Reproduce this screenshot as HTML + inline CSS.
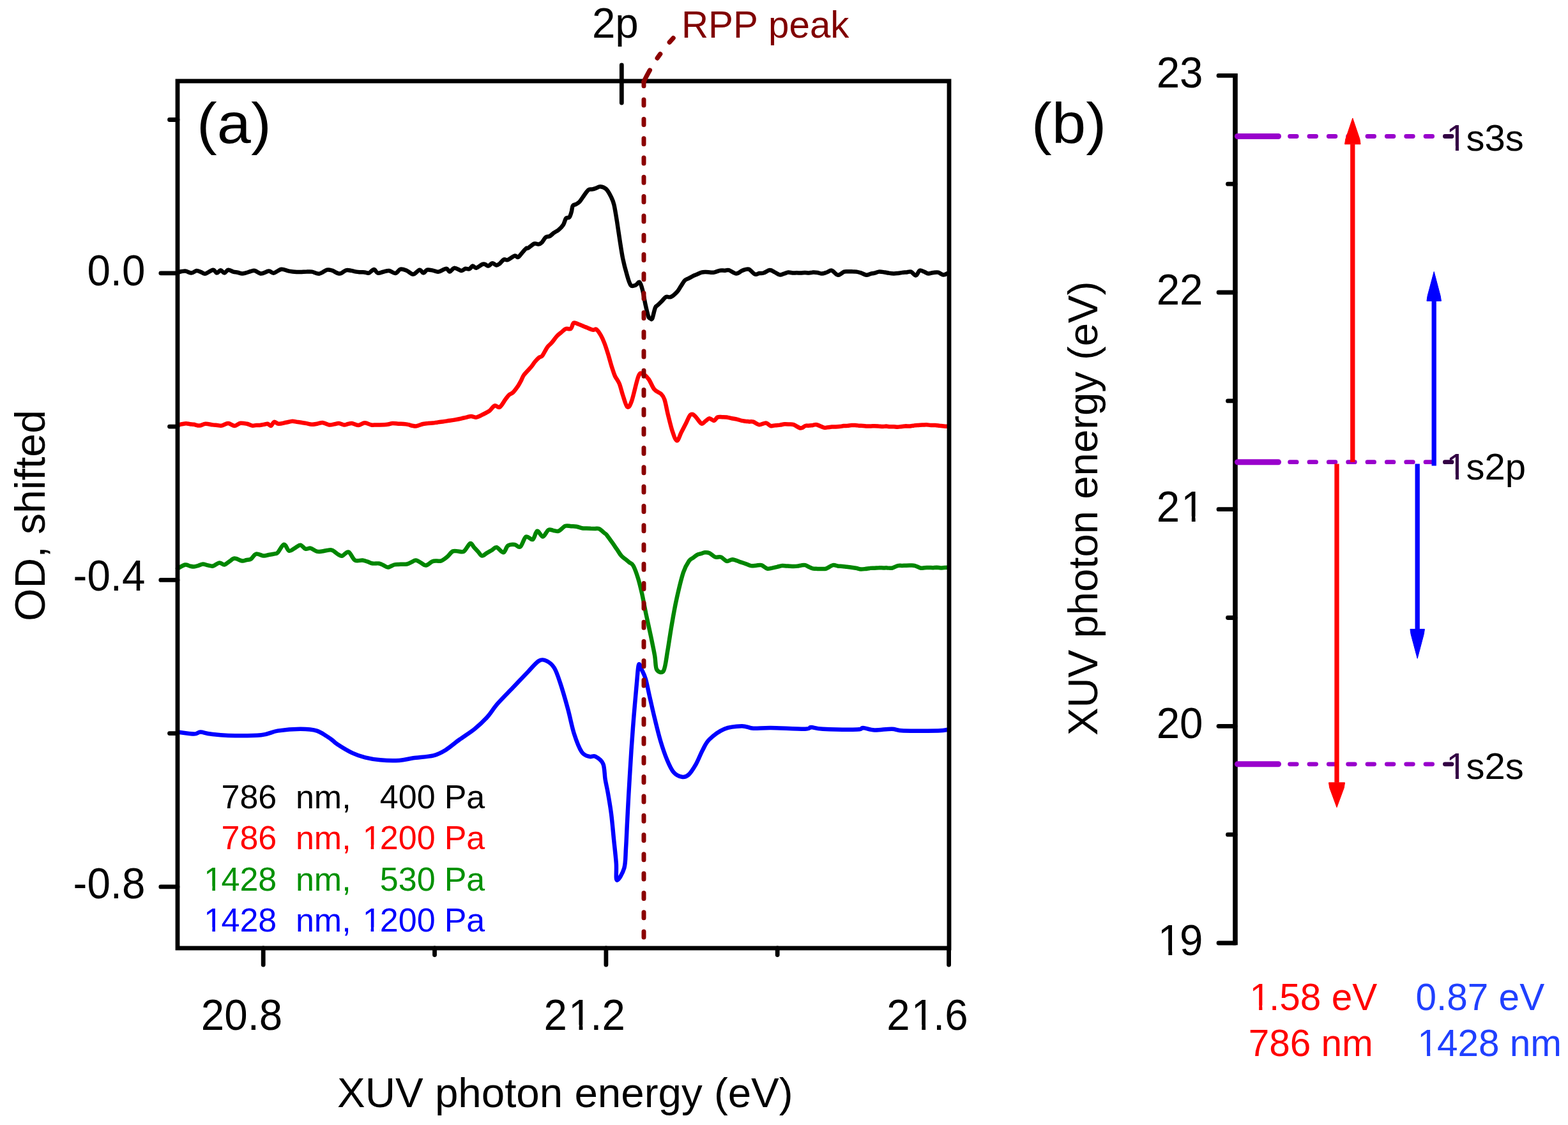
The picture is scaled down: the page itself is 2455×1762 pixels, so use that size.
<!DOCTYPE html>
<html><head><meta charset="utf-8"><title>XUV spectra</title>
<style>html,body{margin:0;padding:0;background:#fff;} svg{display:block;} text{font-kerning:none;}</style>
</head><body>
<svg width="2455" height="1762" viewBox="0 0 2455 1762" font-family='"Liberation Sans", Arial, sans-serif'>
<rect width="2455" height="1762" fill="#fff"/>
<path d="M278.0,426.6 C280.0,426.3 286.2,424.4 289.8,424.6 C293.4,424.8 296.8,427.7 299.8,427.6 C302.8,427.5 305.2,424.3 307.7,424.0 C310.2,423.7 312.3,425.3 314.6,426.1 C317.0,426.9 318.5,429.2 321.6,428.6 C324.7,428.0 330.5,422.9 333.5,422.7 C336.5,422.5 337.4,427.5 339.4,427.6 C341.4,427.7 343.4,423.3 345.4,423.3 C347.4,423.3 349.3,427.7 351.3,427.6 C353.3,427.5 355.0,423.0 357.3,422.7 C359.6,422.4 362.7,424.9 365.2,425.6 C367.7,426.3 369.8,426.2 372.1,426.7 C374.5,427.2 376.8,428.5 379.1,428.6 C381.4,428.7 383.5,427.8 385.7,427.2 C387.9,426.7 390.2,425.6 392.4,425.0 C394.6,424.5 396.2,423.4 399.0,424.0 C401.8,424.6 405.3,428.5 408.9,428.6 C412.5,428.7 417.5,424.8 420.8,424.6 C424.1,424.4 425.4,428.1 428.7,427.6 C432.0,427.1 436.6,422.2 440.6,421.7 C444.6,421.2 448.5,423.9 452.5,424.6 C456.5,425.3 461.1,425.8 464.4,426.0 C467.7,426.2 469.7,426.0 472.4,425.9 C475.0,425.8 477.7,425.6 480.3,425.6 C483.0,425.5 485.0,425.1 488.3,425.6 C491.6,426.1 496.2,429.1 500.2,428.6 C504.1,428.1 508.7,423.5 512.0,422.7 C515.3,421.9 516.7,422.7 520.0,423.7 C523.3,424.7 528.3,428.7 531.9,428.6 C535.5,428.5 538.8,424.1 541.8,423.3 C544.8,422.5 547.1,423.5 549.8,423.9 C552.4,424.3 555.3,425.2 557.7,425.6 C560.1,426.0 562.1,426.1 564.3,426.3 C566.5,426.4 568.7,426.2 570.9,426.4 C573.1,426.6 575.1,428.3 577.5,427.6 C579.9,426.9 583.2,422.1 585.5,422.1 C587.8,422.1 588.9,427.0 591.4,427.6 C593.9,428.2 597.4,426.3 600.3,425.7 C603.3,425.1 606.2,423.6 609.3,424.0 C612.4,424.4 616.2,428.4 619.2,428.0 C622.2,427.6 624.1,422.4 627.1,421.7 C630.1,421.0 633.8,422.7 637.1,424.0 C640.4,425.3 643.7,429.8 647.0,429.6 C650.3,429.4 654.2,423.0 656.9,422.7 C659.5,422.4 660.9,427.6 662.9,427.6 C664.9,427.6 666.3,423.4 668.8,422.7 C671.3,422.0 674.8,423.2 677.8,423.6 C680.7,424.1 683.2,426.1 686.7,425.6 C690.2,425.1 695.7,420.7 698.6,420.7 C701.5,420.7 702.0,425.7 704.2,425.5 C706.4,425.3 708.6,420.0 711.6,419.7 C714.6,419.4 719.4,423.7 722.2,423.9 C725.0,424.1 726.5,421.1 728.6,420.7 C730.7,420.3 733.0,422.0 734.9,421.3 C736.8,420.6 738.4,416.8 740.2,416.5 C742.0,416.2 743.0,420.1 745.5,419.7 C748.0,419.3 752.7,414.9 755.0,413.9 C757.3,412.9 757.7,413.5 759.3,413.9 C760.9,414.3 762.7,416.8 764.6,416.5 C766.5,416.2 768.8,412.5 770.9,412.3 C773.0,412.1 775.3,415.3 777.2,415.4 C779.1,415.5 780.5,414.3 782.5,412.8 C784.5,411.3 786.8,407.5 788.9,406.5 C791.0,405.5 792.4,408.0 795.2,407.0 C798.0,406.0 803.1,401.3 805.8,400.6 C808.4,399.9 809.2,403.6 811.1,402.8 C813.0,402.0 815.3,398.2 817.5,395.9 C819.6,393.6 822.2,390.2 823.8,389.0 C825.4,387.8 824.9,389.7 827.0,388.5 C829.1,387.3 833.9,382.6 836.5,381.6 C839.1,380.6 841.0,382.9 842.9,382.6 C844.8,382.3 846.2,381.9 848.1,380.0 C850.0,378.1 852.4,373.2 854.5,371.5 C856.6,369.8 858.7,371.0 860.8,369.9 C862.9,368.8 864.9,366.4 867.2,364.7 C869.5,363.0 872.1,362.0 874.6,359.9 C877.1,357.8 880.1,355.0 882.0,352.0 C883.9,349.0 884.6,343.8 886.2,341.9 C887.8,339.9 890.1,342.0 891.5,340.3 C892.9,338.6 893.8,334.9 894.7,331.9 C895.6,328.9 895.6,324.3 896.8,322.3 C898.0,320.3 900.3,320.8 902.1,319.7 C903.9,318.6 905.6,317.9 907.4,316.0 C909.2,314.1 910.9,311.1 912.7,308.6 C914.5,306.1 916.4,303.1 918.0,301.2 C919.6,299.2 920.6,297.7 922.2,296.9 C923.8,296.1 925.7,296.8 927.5,296.4 C929.3,296.0 930.7,295.5 932.8,294.8 C934.9,294.1 937.3,292.0 940.0,292.2 C942.7,292.4 946.3,293.4 949.1,296.1 C951.9,298.8 954.8,304.3 956.8,308.4 C958.8,312.5 959.9,314.3 961.4,320.7 C962.9,327.1 964.5,337.3 966.0,346.8 C967.5,356.3 969.1,367.8 970.6,377.5 C972.1,387.2 973.4,396.4 975.2,405.1 C977.0,413.8 979.4,422.8 981.4,429.7 C983.4,436.6 985.2,443.8 987.5,446.6 C989.8,449.4 992.9,447.4 995.2,446.6 C997.5,445.8 999.5,440.7 1001.3,442.0 C1003.1,443.3 1004.5,448.4 1006.0,454.3 C1007.5,460.2 1009.1,470.4 1010.6,477.3 C1012.1,484.2 1013.9,492.1 1015.2,495.7 C1016.5,499.3 1017.5,498.5 1018.5,499.0 C1019.5,499.5 1020.1,501.7 1021.3,498.8 C1022.5,495.9 1024.4,485.5 1025.9,481.9 C1027.4,478.3 1028.7,479.1 1030.5,477.3 C1032.3,475.5 1034.6,473.2 1036.7,471.1 C1038.7,469.1 1040.5,466.0 1042.8,465.0 C1045.1,464.0 1047.6,466.3 1050.5,465.0 C1053.4,463.7 1057.4,460.1 1060.0,457.3 C1062.6,454.5 1064.0,451.3 1066.0,448.3 C1068.1,445.3 1070.0,441.4 1072.1,439.3 C1074.2,437.2 1076.4,437.0 1078.5,435.9 C1080.6,434.7 1082.7,433.5 1084.9,432.4 C1087.1,431.3 1089.4,430.5 1091.7,429.5 C1094.0,428.5 1096.3,427.2 1098.5,426.6 C1100.7,426.0 1102.8,426.1 1105.0,426.1 C1107.1,426.1 1109.3,426.4 1111.4,426.5 C1113.6,426.6 1115.2,427.1 1117.9,426.6 C1120.6,426.1 1124.8,424.1 1127.6,423.6 C1130.3,423.1 1132.1,423.8 1134.4,423.7 C1136.7,423.7 1138.1,422.3 1141.2,423.1 C1144.3,423.9 1149.2,428.4 1152.8,428.5 C1156.3,428.6 1159.3,424.7 1162.5,423.6 C1165.7,422.5 1169.0,420.7 1172.2,421.7 C1175.4,422.7 1179.2,428.4 1181.9,429.5 C1184.7,430.6 1186.4,428.4 1188.7,428.0 C1191.0,427.7 1192.8,428.3 1195.5,427.5 C1198.2,426.7 1202.3,423.3 1205.2,423.1 C1208.1,422.9 1210.4,425.2 1213.0,426.4 C1215.5,427.6 1218.3,430.0 1220.7,430.4 C1223.1,430.8 1225.2,429.3 1227.5,428.7 C1229.8,428.0 1232.1,426.8 1234.3,426.6 C1236.5,426.4 1238.6,427.3 1240.8,427.4 C1242.9,427.6 1245.1,427.3 1247.2,427.3 C1249.4,427.3 1251.5,427.5 1253.7,427.5 C1255.9,427.5 1258.0,427.1 1260.2,427.1 C1262.3,427.1 1264.5,427.6 1266.6,427.5 C1268.8,427.4 1270.9,426.7 1273.1,426.6 C1275.3,426.5 1277.6,426.7 1279.9,427.0 C1282.2,427.3 1284.3,428.6 1286.7,428.5 C1289.1,428.4 1291.9,427.3 1294.5,426.5 C1297.0,425.7 1299.3,422.9 1302.2,423.6 C1305.1,424.3 1308.7,430.5 1311.9,430.8 C1315.1,431.1 1318.9,426.5 1321.6,425.6 C1324.3,424.7 1325.9,425.4 1328.1,425.3 C1330.2,425.3 1332.4,425.1 1334.5,425.2 C1336.7,425.2 1338.6,425.2 1341.0,425.6 C1343.4,426.0 1346.2,426.9 1348.8,427.7 C1351.3,428.6 1354.1,430.6 1356.5,430.8 C1358.9,431.0 1360.8,429.4 1363.0,428.8 C1365.1,428.3 1367.3,428.3 1369.4,427.7 C1371.6,427.2 1373.5,425.9 1375.9,425.6 C1378.3,425.3 1381.1,425.8 1383.7,426.2 C1386.3,426.5 1388.8,427.2 1391.4,427.6 C1394.0,428.0 1396.8,428.4 1399.2,428.5 C1401.6,428.6 1403.7,428.2 1406.0,427.9 C1408.2,427.7 1410.5,427.2 1412.8,426.9 C1415.0,426.6 1417.3,426.6 1419.5,426.4 C1421.8,426.2 1423.9,424.8 1426.3,425.6 C1428.7,426.4 1431.8,431.7 1434.1,431.4 C1436.4,431.1 1437.8,424.6 1439.9,423.6 C1442.0,422.6 1444.4,424.7 1446.7,425.5 C1449.0,426.3 1451.1,428.3 1453.5,428.5 C1455.9,428.7 1458.7,427.3 1461.2,427.0 C1463.8,426.7 1466.4,426.0 1469.0,426.6 C1471.6,427.2 1474.1,430.2 1476.8,430.4 C1479.5,430.5 1483.6,428.0 1485.0,427.5" fill="none" stroke="#000" stroke-width="6.5" stroke-linejoin="round" stroke-linecap="round"/>
<path d="M278.1,665.9 C279.2,665.6 282.5,664.7 284.7,664.3 C286.9,663.9 289.2,663.3 291.3,663.3 C293.4,663.3 295.4,664.0 297.4,664.2 C299.4,664.5 301.0,664.4 303.5,664.8 C306.0,665.2 309.6,666.8 312.6,666.6 C315.6,666.4 318.3,664.0 321.7,663.8 C325.1,663.6 329.8,665.0 332.9,665.4 C335.9,665.8 337.6,665.7 340.0,665.9 C342.4,666.1 344.2,667.1 347.1,666.6 C350.0,666.1 353.8,663.1 357.2,663.1 C360.6,663.1 364.2,667.0 367.4,666.9 C370.6,666.8 373.3,663.3 376.5,662.8 C379.7,662.3 383.6,663.2 386.6,663.8 C389.6,664.4 392.3,666.2 394.7,666.6 C397.1,667.0 398.8,666.2 400.8,666.1 C402.8,665.9 404.9,666.1 406.9,665.9 C408.9,665.7 411.0,665.3 413.0,664.9 C415.0,664.6 417.2,663.5 419.1,663.8 C421.0,664.1 422.5,667.4 424.2,666.9 C425.9,666.4 427.2,661.3 429.2,660.8 C431.2,660.3 433.2,663.6 436.3,663.8 C439.4,664.0 443.9,662.5 447.5,661.8 C451.1,661.1 454.7,660.0 457.6,659.8 C460.5,659.6 462.3,660.4 464.7,660.8 C467.1,661.1 469.3,661.4 471.8,661.8 C474.3,662.2 477.2,662.6 480.0,663.1 C482.7,663.6 485.3,664.7 488.1,664.8 C490.9,664.9 493.8,664.2 496.6,663.7 C499.5,663.2 502.1,661.7 505.2,662.0 C508.3,662.3 512.4,665.1 515.4,665.5 C518.4,665.9 520.5,664.9 523.0,664.4 C525.5,664.0 528.0,662.8 530.6,663.0 C533.2,663.2 536.3,665.3 538.7,665.5 C541.1,665.7 542.8,664.4 544.8,664.0 C546.8,663.6 548.2,662.7 550.9,663.0 C553.6,663.3 557.6,666.1 561.0,666.0 C564.4,665.9 567.7,662.4 571.1,662.3 C574.5,662.2 578.5,665.0 581.3,665.5 C584.1,666.0 585.8,665.5 588.1,665.5 C590.3,665.5 592.6,665.4 594.8,665.4 C597.1,665.4 599.4,665.4 601.6,665.3 C603.8,665.2 606.0,664.9 608.2,664.5 C610.3,664.1 612.2,663.1 614.7,663.0 C617.2,662.9 620.5,663.6 623.4,663.7 C626.2,663.9 629.4,663.8 632.0,664.0 C634.6,664.2 636.5,664.4 638.8,664.9 C641.0,665.3 643.3,666.3 645.5,666.7 C647.8,667.1 649.5,667.7 652.3,667.3 C655.1,666.9 659.4,664.7 662.4,664.0 C665.4,663.3 667.5,663.1 670.0,662.9 C672.5,662.6 675.1,662.7 677.6,662.5 C680.1,662.3 682.7,661.7 685.2,661.4 C687.7,661.0 690.3,660.7 692.8,660.4 C695.3,660.1 696.9,659.9 700.0,659.4 C703.1,658.9 707.7,658.3 711.5,657.6 C715.3,656.9 719.8,656.0 722.9,655.3 C726.0,654.6 727.9,654.2 730.3,653.6 C732.8,653.0 735.2,651.9 737.8,651.9 C740.4,651.9 742.6,654.2 745.9,653.6 C749.1,653.0 753.9,650.2 757.3,648.5 C760.7,646.8 763.6,645.5 766.5,643.3 C769.4,641.1 771.8,636.2 774.5,635.3 C777.2,634.3 779.6,639.3 782.5,637.6 C785.4,635.9 789.2,628.2 791.7,625.0 C794.2,621.8 795.5,619.8 797.4,618.1 C799.3,616.4 800.9,616.9 803.2,614.6 C805.5,612.3 809.1,607.3 811.2,604.3 C813.3,601.2 814.3,599.2 815.8,596.3 C817.3,593.4 817.7,590.7 820.4,587.1 C823.1,583.5 828.9,577.9 831.8,574.5 C834.7,571.1 835.5,569.0 837.6,566.5 C839.7,564.0 842.5,561.1 844.4,559.6 C846.3,558.1 846.9,560.0 849.0,557.3 C851.1,554.6 854.6,547.0 857.1,543.6 C859.6,540.2 861.4,539.6 863.9,536.7 C866.4,533.8 869.5,529.1 872.0,526.4 C874.5,523.7 876.5,522.5 878.8,520.6 C881.1,518.7 883.2,515.9 885.7,514.9 C888.2,513.9 891.6,516.4 893.7,514.9 C895.8,513.4 896.2,506.8 898.3,505.7 C900.4,504.6 903.1,506.9 906.4,508.0 C909.6,509.1 914.2,511.2 917.8,512.6 C921.4,514.0 925.4,516.0 928.1,516.6 C930.8,517.2 931.8,514.6 933.9,516.0 C936.0,517.4 938.6,521.6 940.7,525.2 C942.8,528.8 944.6,532.8 946.5,537.8 C948.4,542.8 950.3,548.8 952.2,555.0 C954.1,561.2 956.2,569.4 958.0,575.0 C959.8,580.6 960.8,584.4 962.8,588.8 C964.8,593.1 967.8,596.1 969.8,601.1 C971.8,606.1 973.0,612.7 975.1,618.7 C977.2,624.7 979.9,635.8 982.2,637.3 C984.6,638.8 986.3,635.7 989.2,627.6 C992.1,619.5 996.8,595.7 999.8,588.8 C1002.8,581.9 1004.2,585.2 1006.9,586.1 C1009.5,587.0 1012.8,590.0 1015.7,594.0 C1018.6,598.0 1021.3,606.1 1024.5,609.9 C1027.7,613.7 1032.4,614.4 1035.1,617.0 C1037.8,619.6 1038.6,620.5 1040.4,625.8 C1042.2,631.1 1043.7,640.5 1045.7,648.7 C1047.8,656.9 1050.4,668.3 1052.7,675.2 C1055.0,682.1 1057.5,689.9 1059.8,690.2 C1062.1,690.5 1064.4,681.5 1066.8,677.0 C1069.2,672.5 1071.5,667.9 1073.9,663.3 C1076.3,658.7 1078.7,651.6 1081.0,649.6 C1083.3,647.6 1085.2,649.1 1088.0,651.4 C1090.8,653.7 1095.4,662.0 1098.1,663.4 C1100.8,664.8 1102.3,661.0 1104.4,659.6 C1106.5,658.3 1108.4,655.4 1110.7,655.3 C1113.0,655.2 1115.9,659.2 1118.0,658.9 C1120.1,658.6 1121.3,654.5 1123.4,653.5 C1125.5,652.5 1128.2,653.2 1130.7,653.2 C1133.1,653.2 1135.4,653.1 1137.9,653.5 C1140.4,653.9 1143.1,654.8 1145.7,655.3 C1148.3,655.8 1151.0,656.0 1153.6,656.6 C1156.2,657.2 1159.1,658.4 1161.4,658.9 C1163.7,659.4 1165.4,659.4 1167.4,659.7 C1169.4,659.9 1171.5,660.2 1173.5,660.4 C1175.5,660.5 1177.0,659.9 1179.5,660.7 C1182.0,661.5 1185.2,664.9 1188.5,665.2 C1191.8,665.5 1196.3,662.2 1199.3,662.5 C1202.3,662.8 1204.2,666.4 1206.6,667.0 C1209.0,667.6 1211.4,666.4 1213.8,666.2 C1216.2,665.9 1218.7,665.9 1221.1,665.6 C1223.5,665.3 1225.9,664.5 1228.3,664.3 C1230.7,664.1 1233.1,664.4 1235.5,664.6 C1237.9,664.7 1239.7,664.2 1242.7,665.2 C1245.7,666.2 1250.6,670.3 1253.6,670.6 C1256.6,670.9 1258.6,667.7 1260.8,667.0 C1263.0,666.3 1264.8,666.8 1266.8,666.6 C1268.8,666.4 1270.9,666.1 1272.9,665.9 C1274.9,665.7 1276.1,664.6 1278.9,665.2 C1281.7,665.8 1287.0,669.0 1289.8,669.7 C1292.6,670.4 1293.9,669.4 1296.0,669.3 C1298.1,669.1 1300.1,668.8 1302.2,668.6 C1304.3,668.5 1306.3,668.6 1308.4,668.5 C1310.5,668.4 1312.5,668.3 1314.6,668.1 C1316.7,667.9 1318.7,667.3 1320.8,667.1 C1322.9,666.9 1324.9,666.9 1327.0,666.8 C1329.1,666.6 1331.2,666.2 1333.2,666.1 C1335.2,666.0 1337.2,665.8 1339.2,665.9 C1341.2,666.0 1343.2,666.6 1345.2,666.8 C1347.3,666.9 1349.3,666.8 1351.3,666.9 C1353.3,667.0 1355.3,667.4 1357.3,667.5 C1359.3,667.6 1361.3,667.6 1363.3,667.5 C1365.3,667.5 1367.3,667.2 1369.3,667.2 C1371.4,667.2 1373.4,667.4 1375.4,667.6 C1377.4,667.7 1379.4,668.1 1381.4,668.1 C1383.4,668.1 1385.4,667.6 1387.4,667.6 C1389.4,667.7 1391.4,668.2 1393.5,668.3 C1395.5,668.4 1397.5,668.2 1399.5,668.2 C1401.5,668.3 1403.4,668.9 1405.5,668.8 C1407.6,668.7 1409.8,668.1 1412.0,667.9 C1414.1,667.7 1416.3,667.4 1418.4,667.3 C1420.6,667.3 1422.7,667.7 1424.9,667.5 C1427.0,667.4 1429.2,666.6 1431.3,666.4 C1433.5,666.1 1435.6,666.1 1437.8,666.0 C1439.9,665.8 1442.1,665.7 1444.2,665.6 C1446.4,665.5 1448.5,665.1 1450.7,665.2 C1452.9,665.3 1455.3,666.0 1457.6,666.1 C1459.8,666.2 1462.1,665.8 1464.4,665.9 C1466.7,666.0 1469.0,666.5 1471.3,666.8 C1473.6,667.0 1475.9,667.2 1478.1,667.4 C1480.4,667.6 1483.9,667.8 1485.0,667.9" fill="none" stroke="#f00" stroke-width="6.5" stroke-linejoin="round" stroke-linecap="round"/>
<path d="M278.0,890.4 C280.0,889.4 286.7,885.2 289.8,884.5 C292.9,883.8 294.4,885.9 296.8,886.4 C299.1,886.9 301.4,887.6 303.7,887.5 C306.0,887.4 308.3,886.5 310.6,885.8 C313.0,885.2 315.1,883.6 317.6,883.5 C320.1,883.4 322.9,884.9 325.6,885.4 C328.2,885.9 330.5,887.1 333.5,886.5 C336.5,885.9 340.4,881.8 343.4,881.5 C346.4,881.2 348.7,884.9 351.3,884.5 C353.9,884.1 356.6,881.0 359.2,879.3 C361.9,877.7 363.9,874.7 367.2,874.6 C370.5,874.5 376.0,878.1 379.1,878.5 C382.2,878.9 383.7,877.4 386.1,877.0 C388.4,876.5 390.5,877.2 393.0,875.6 C395.5,874.0 397.7,868.4 401.0,867.6 C404.3,866.8 409.6,870.4 412.9,870.6 C416.2,870.8 418.2,869.5 420.8,869.0 C423.4,868.5 426.4,868.2 428.7,867.6 C431.0,867.0 432.0,868.1 434.7,865.6 C437.4,863.1 441.6,853.2 444.6,852.7 C447.6,852.2 449.7,861.7 452.5,862.7 C455.3,863.7 458.5,860.1 461.4,858.6 C464.4,857.1 467.6,853.5 470.4,853.7 C473.2,853.9 475.6,858.9 478.3,859.7 C481.0,860.5 483.3,858.0 486.3,858.7 C489.3,859.4 493.2,862.9 496.2,863.7 C499.2,864.5 501.5,863.8 504.1,863.5 C506.8,863.2 509.4,862.3 512.1,862.0 C514.7,861.7 517.0,860.6 520.0,861.7 C523.0,862.8 527.2,867.1 529.9,868.6 C532.5,870.1 533.2,871.3 535.9,870.6 C538.5,869.9 542.5,863.5 545.8,864.6 C549.1,865.8 552.1,875.4 555.7,877.5 C559.3,879.6 564.3,877.1 567.6,877.5 C570.9,877.9 572.9,878.8 575.5,879.7 C578.2,880.5 580.5,882.0 583.5,882.5 C586.5,883.0 590.6,882.0 593.4,882.5 C596.2,883.0 598.0,884.2 600.3,885.2 C602.7,886.2 604.5,888.6 607.3,888.5 C610.1,888.4 614.4,885.3 617.2,884.5 C620.0,883.7 621.6,884.0 623.8,883.9 C626.0,883.8 628.3,883.9 630.5,883.8 C632.7,883.8 634.8,884.0 637.1,883.5 C639.4,883.0 641.7,881.6 644.0,880.6 C646.4,879.6 648.5,877.4 651.0,877.5 C653.5,877.6 656.3,879.9 658.9,881.3 C661.5,882.6 663.8,885.8 666.8,885.5 C669.8,885.2 673.9,880.7 676.7,879.5 C679.5,878.3 681.3,878.7 683.7,878.5 C686.0,878.3 687.9,879.5 690.6,878.5 C693.3,877.5 697.0,874.8 700.0,872.3 C703.0,869.8 705.9,865.0 708.8,863.5 C711.7,862.0 714.7,863.5 717.6,863.5 C720.6,863.5 723.4,865.6 726.5,863.5 C729.6,861.4 733.6,852.1 736.2,851.1 C738.8,850.1 740.3,855.4 742.4,857.6 C744.4,859.7 746.5,861.9 748.5,864.0 C750.6,866.2 752.4,870.2 754.7,870.5 C757.0,870.8 759.8,867.6 762.3,866.1 C764.9,864.6 767.4,863.2 770.0,861.7 C772.5,860.2 774.6,856.7 777.6,857.3 C780.6,857.9 785.3,865.7 788.2,865.3 C791.1,864.9 792.3,856.8 795.2,854.7 C798.1,852.6 802.6,852.6 805.8,852.9 C809.0,853.2 811.6,858.4 814.6,856.4 C817.6,854.4 820.3,842.5 823.5,840.6 C826.7,838.7 831.1,846.5 834.0,845.0 C836.9,843.5 838.5,832.4 841.1,831.7 C843.8,831.0 847.0,840.9 849.9,840.6 C852.8,840.3 855.9,831.6 858.7,830.0 C861.5,828.4 864.0,830.6 866.7,830.9 C869.3,831.1 871.5,832.9 874.6,831.7 C877.7,830.5 882.0,825.0 885.2,823.8 C888.4,822.6 891.1,824.1 894.0,824.2 C896.9,824.4 899.9,824.2 902.8,824.7 C905.7,825.2 909.0,826.8 911.6,827.3 C914.2,827.8 916.0,827.4 918.2,827.5 C920.4,827.6 922.6,827.7 924.9,827.8 C927.1,827.8 929.3,827.9 931.5,828.0 C933.7,828.1 935.5,827.0 938.1,828.2 C940.7,829.4 944.9,833.7 946.9,835.3 C948.9,836.9 948.0,835.4 950.0,838.0 C952.0,840.6 956.5,846.9 959.2,850.7 C961.9,854.5 963.8,857.4 966.1,860.7 C968.4,864.0 970.8,868.2 973.0,870.7 C975.2,873.2 977.1,874.1 979.2,875.8 C981.2,877.5 983.3,879.2 985.3,880.9 C987.4,882.6 989.2,881.8 991.5,886.0 C993.8,890.2 996.8,898.6 999.1,906.0 C1001.4,913.4 1003.2,921.3 1005.3,930.5 C1007.3,939.7 1009.1,950.3 1011.4,961.3 C1013.7,972.3 1016.8,985.6 1019.1,996.6 C1021.4,1007.6 1023.7,1018.6 1025.2,1027.3 C1026.7,1036.0 1026.0,1045.0 1028.3,1048.8 C1030.6,1052.6 1036.3,1055.2 1039.1,1050.3 C1041.9,1045.4 1043.2,1031.1 1045.2,1019.6 C1047.2,1008.1 1049.0,994.5 1051.3,981.2 C1053.6,967.9 1055.9,953.9 1059.0,939.8 C1062.1,925.7 1066.5,907.0 1069.8,896.8 C1073.1,886.5 1076.4,882.1 1079.0,878.3 C1081.6,874.4 1083.1,875.2 1085.2,873.7 C1087.2,872.2 1089.3,870.2 1091.3,869.1 C1093.3,868.0 1095.4,867.8 1097.4,867.2 C1099.4,866.6 1101.3,865.5 1103.5,865.3 C1105.7,865.1 1108.0,865.0 1110.7,866.2 C1113.4,867.4 1116.8,871.5 1119.8,872.5 C1122.8,873.5 1125.8,871.4 1128.8,872.5 C1131.8,873.6 1134.9,878.3 1137.9,878.9 C1140.9,879.5 1143.6,876.1 1146.9,876.2 C1150.2,876.4 1155.0,878.9 1157.8,879.8 C1160.6,880.7 1161.8,881.1 1163.8,881.8 C1165.8,882.5 1167.8,883.2 1169.8,883.9 C1171.8,884.6 1173.4,885.8 1175.8,886.1 C1178.2,886.4 1181.2,885.9 1183.9,885.7 C1186.7,885.6 1189.2,884.4 1192.1,885.2 C1195.0,886.0 1198.4,889.9 1201.2,890.6 C1204.0,891.3 1206.4,890.0 1209.0,889.6 C1211.6,889.1 1214.3,888.4 1216.9,887.8 C1219.5,887.2 1222.4,886.3 1224.7,886.1 C1227.0,885.9 1228.7,886.3 1230.7,886.4 C1232.7,886.5 1234.7,886.7 1236.7,886.8 C1238.7,886.9 1240.7,887.0 1242.7,887.0 C1244.7,887.0 1246.7,886.9 1248.7,886.6 C1250.7,886.3 1252.8,885.6 1254.8,885.4 C1256.8,885.1 1258.7,884.7 1260.8,885.2 C1262.9,885.7 1265.0,887.4 1267.2,888.3 C1269.3,889.2 1271.3,890.2 1273.5,890.6 C1275.7,891.0 1277.9,890.8 1280.1,890.9 C1282.3,890.9 1284.6,891.0 1286.8,891.0 C1289.0,890.9 1290.5,891.6 1293.4,890.6 C1296.3,889.6 1301.2,885.9 1304.2,885.2 C1307.2,884.5 1309.0,886.1 1311.5,886.4 C1313.9,886.7 1316.3,886.7 1318.7,886.9 C1321.1,887.1 1323.5,887.5 1326.0,887.8 C1328.4,888.1 1330.8,888.5 1333.2,888.8 C1335.6,889.1 1338.0,889.3 1340.4,889.8 C1342.8,890.2 1345.2,891.3 1347.6,891.5 C1350.0,891.7 1352.4,891.3 1354.8,891.0 C1357.2,890.8 1359.7,890.1 1362.1,889.9 C1364.5,889.6 1367.0,889.8 1369.3,889.7 C1371.6,889.6 1373.8,889.3 1376.1,889.3 C1378.4,889.2 1380.6,889.4 1382.9,889.4 C1385.2,889.4 1387.4,889.3 1389.7,889.4 C1392.0,889.4 1393.9,890.2 1396.5,889.7 C1399.1,889.2 1402.9,886.7 1405.5,886.1 C1408.1,885.5 1410.0,886.0 1412.3,885.9 C1414.5,885.9 1416.8,885.7 1419.0,885.7 C1421.3,885.6 1423.6,885.5 1425.8,885.6 C1428.1,885.7 1430.0,885.4 1432.6,886.1 C1435.2,886.8 1439.2,889.2 1441.7,889.7 C1444.2,890.2 1445.8,889.3 1447.9,889.2 C1449.9,889.1 1452.0,889.1 1454.1,889.0 C1456.1,889.0 1458.2,889.2 1460.3,889.2 C1462.3,889.1 1464.4,888.7 1466.4,888.7 C1468.5,888.8 1470.6,889.4 1472.6,889.4 C1474.7,889.5 1476.8,889.1 1478.8,889.0 C1480.9,888.9 1484.0,888.8 1485.0,888.8" fill="none" stroke="#008600" stroke-width="6.5" stroke-linejoin="round" stroke-linecap="round"/>
<path d="M278.0,1146.6 C282.3,1147.1 297.8,1149.6 303.7,1149.6 C309.6,1149.6 309.4,1146.6 313.7,1146.6 C318.0,1146.6 322.2,1148.7 329.5,1149.6 C336.8,1150.5 344.1,1151.7 357.3,1152.0 C370.5,1152.3 396.0,1152.4 408.9,1151.2 C421.8,1150.0 424.4,1146.2 434.7,1144.6 C444.9,1143.0 460.1,1141.7 470.4,1141.7 C480.6,1141.7 488.3,1142.0 496.2,1144.6 C504.1,1147.2 512.7,1154.0 518.0,1157.5 C523.3,1161.0 522.3,1161.8 527.9,1165.5 C533.5,1169.2 544.4,1175.9 551.7,1179.4 C559.0,1182.9 564.3,1184.5 571.6,1186.3 C578.9,1188.1 586.5,1189.5 595.4,1190.3 C604.3,1191.1 616.6,1191.4 625.2,1190.9 C633.8,1190.4 638.1,1188.6 647.0,1187.3 C655.9,1186.0 670.4,1185.3 678.7,1183.3 C687.0,1181.3 689.9,1179.5 696.6,1175.4 C703.4,1171.3 711.5,1164.1 719.2,1158.5 C727.0,1152.9 735.9,1147.5 743.1,1141.7 C750.3,1135.9 756.3,1130.4 762.3,1123.8 C768.3,1117.2 772.2,1110.0 779.0,1102.2 C785.8,1094.4 795.0,1085.5 803.0,1077.1 C811.0,1068.7 820.1,1058.9 826.9,1051.9 C833.7,1044.9 838.9,1037.9 843.7,1035.1 C848.5,1032.3 851.7,1033.3 855.7,1035.1 C859.7,1036.9 864.1,1040.1 867.7,1045.9 C871.3,1051.7 873.6,1059.1 877.2,1069.9 C880.8,1080.7 885.6,1097.4 889.2,1110.6 C892.8,1123.8 895.2,1137.7 898.8,1148.9 C902.4,1160.1 906.8,1171.7 910.8,1177.7 C914.8,1183.7 919.2,1183.7 922.8,1184.9 C926.4,1186.1 928.7,1183.0 932.3,1184.9 C935.9,1186.8 941.7,1190.3 944.2,1196.2 C946.8,1202.1 946.4,1213.1 947.6,1220.5 C948.8,1227.9 950.0,1231.8 951.6,1240.8 C953.2,1249.8 955.4,1262.2 957.0,1274.6 C958.6,1287.0 959.8,1302.2 961.1,1315.1 C962.4,1328.0 964.0,1341.4 964.8,1352.0 C965.6,1362.6 963.7,1377.3 965.8,1378.6 C967.9,1379.9 974.9,1368.0 977.3,1359.7 C979.7,1351.4 979.2,1340.5 980.0,1328.6 C980.8,1316.7 981.3,1301.6 982.0,1288.1 C982.7,1274.6 983.4,1259.8 984.1,1247.6 C984.8,1235.4 985.3,1227.1 986.0,1215.0 C986.7,1202.9 987.5,1190.1 988.5,1174.8 C989.5,1159.5 990.9,1140.4 992.3,1123.2 C993.7,1106.0 995.5,1085.2 996.8,1071.6 C998.1,1057.9 998.7,1045.2 1000.0,1041.3 C1001.3,1037.4 1002.7,1044.6 1004.5,1048.4 C1006.3,1052.2 1008.9,1056.6 1011.0,1063.9 C1013.1,1071.2 1015.0,1082.0 1017.4,1092.3 C1019.8,1102.6 1022.4,1114.4 1025.2,1125.8 C1028.0,1137.2 1031.0,1149.8 1034.2,1160.6 C1037.4,1171.3 1041.1,1182.1 1044.5,1190.3 C1047.9,1198.5 1050.9,1205.3 1054.8,1209.7 C1058.7,1214.1 1063.8,1216.2 1067.7,1216.8 C1071.6,1217.4 1074.3,1216.8 1078.0,1213.5 C1081.7,1210.2 1086.0,1203.2 1089.7,1196.8 C1093.4,1190.4 1096.5,1181.5 1100.0,1175.0 C1103.5,1168.5 1105.0,1163.5 1110.7,1158.0 C1116.4,1152.5 1125.8,1145.2 1134.2,1141.7 C1142.7,1138.2 1153.9,1137.4 1161.4,1137.2 C1169.0,1137.0 1172.0,1140.3 1179.5,1140.8 C1187.0,1141.2 1193.0,1139.8 1206.6,1139.9 C1220.1,1140.1 1250.2,1141.9 1260.8,1141.7 C1271.3,1141.5 1265.4,1139.0 1269.9,1139.0 C1274.4,1139.0 1276.0,1141.1 1288.0,1141.7 C1300.0,1142.3 1331.7,1142.9 1342.2,1142.6 C1352.7,1142.3 1346.7,1139.8 1351.2,1139.9 C1355.7,1140.1 1361.8,1143.2 1369.3,1143.5 C1376.8,1143.8 1389.0,1141.5 1396.5,1141.7 C1404.0,1141.9 1402.5,1144.0 1414.5,1144.4 C1426.5,1144.9 1457.0,1144.7 1468.8,1144.4 C1480.5,1144.1 1482.3,1142.9 1485.0,1142.6" fill="none" stroke="#00f" stroke-width="6.5" stroke-linejoin="round" stroke-linecap="round"/>
<rect x="278" y="127" width="1208" height="1358" fill="none" stroke="#000" stroke-width="6.8"/>
<path d="M1008,1468 L1008,128" fill="none" stroke="#8b0000" stroke-width="7" stroke-dasharray="9 21.3" stroke-linecap="round"/>
<path d="M1008,128 Q1026.5,89 1056.5,57" fill="none" stroke="#8b0000" stroke-width="7.3" stroke-dasharray="20.3 22.3 7.9 23.5 8.8 50" stroke-linecap="round"/>
<line x1="251.8" y1="427.8" x2="278" y2="427.8" stroke="#000" stroke-width="6.8" stroke-linecap="round"/>
<line x1="251.8" y1="908.4" x2="278" y2="908.4" stroke="#000" stroke-width="6.8" stroke-linecap="round"/>
<line x1="251.8" y1="1388.9" x2="278" y2="1388.9" stroke="#000" stroke-width="6.8" stroke-linecap="round"/>
<line x1="265.5" y1="187.5" x2="278" y2="187.5" stroke="#000" stroke-width="6.8" stroke-linecap="round"/>
<line x1="265.5" y1="668.1" x2="278" y2="668.1" stroke="#000" stroke-width="6.8" stroke-linecap="round"/>
<line x1="265.5" y1="1148.6" x2="278" y2="1148.6" stroke="#000" stroke-width="6.8" stroke-linecap="round"/>
<line x1="412.2" y1="1485" x2="412.2" y2="1511" stroke="#000" stroke-width="6.8" stroke-linecap="round"/>
<line x1="948.9" y1="1485" x2="948.9" y2="1511" stroke="#000" stroke-width="6.8" stroke-linecap="round"/>
<line x1="1485.6" y1="1485" x2="1485.6" y2="1511" stroke="#000" stroke-width="6.8" stroke-linecap="round"/>
<line x1="680.5" y1="1485" x2="680.5" y2="1495.5" stroke="#000" stroke-width="6.8" stroke-linecap="round"/>
<line x1="1217.2" y1="1485" x2="1217.2" y2="1495.5" stroke="#000" stroke-width="6.8" stroke-linecap="round"/>
<line x1="973.3" y1="102" x2="973.3" y2="161" stroke="#000" stroke-width="6.8" stroke-linecap="round"/>
<text x="136.4" y="446.7" font-size="65.5" fill="#000" transform="translate(139.0,446.7) scale(1.0,1.04) translate(-139.0,-446.7)" >0.0</text>
<text x="114.6" y="925.4" font-size="65.5" fill="#000" transform="translate(117.5,925.4) scale(1.0,1.04) translate(-117.5,-925.4)" >-0.4</text>
<text x="114.6" y="1406.7" font-size="65.5" fill="#000" transform="translate(117.5,1406.7) scale(1.0,1.04) translate(-117.5,-1406.7)" >-0.8</text>
<text x="314.8" y="1613.3" font-size="65.5" fill="#000" transform="translate(318.1,1613.3) scale(1.0,1.035) translate(-318.1,-1613.3)" >20.8</text>
<text x="851.5" y="1613.3" font-size="65.5" fill="#000" transform="translate(854.8,1613.3) scale(1.0,1.035) translate(-854.8,-1613.3)" >2<tspan dx="2.17">1</tspan><tspan dx="-2.17">.</tspan>2</text>
<text x="1388.2" y="1613.3" font-size="65.5" fill="#000" transform="translate(1391.5,1613.3) scale(1.0,1.035) translate(-1391.5,-1613.3)" >2<tspan dx="2.17">1</tspan><tspan dx="-2.17">.</tspan>6</text>
<text x="528.0" y="1734.4" font-size="65.5" fill="#000" >XUV photon energy (eV)</text>
<text transform="translate(70.3,973.1) rotate(-90)" x="0" y="0" font-size="66.2" fill="#000">OD, shifted</text>
<text x="308.3" y="224.5" font-size="92" fill="#000" transform="translate(314.0,224.5) scale(1.037,0.976) translate(-314.0,-224.5)" >(a)</text>
<text x="926.9" y="58.7" font-size="65.5" fill="#000" transform="translate(930.2,58.7) scale(1.0,1.03) translate(-930.2,-58.7)" >2p</text>
<text x="1067.0" y="59.1" font-size="58.3" fill="#800000" >RPP peak</text>
<text x="346.5" y="1265.6" font-size="52" fill="#000" >786</text>
<text x="462.9" y="1265.6" font-size="52" fill="#000" >nm,</text>
<text x="594.8" y="1265.6" font-size="52" fill="#000" >400</text>
<text x="695.7" y="1265.6" font-size="52" fill="#000" >Pa</text>
<text x="346.5" y="1330.2" font-size="52" fill="#f00" >786</text>
<text x="462.9" y="1330.2" font-size="52" fill="#f00" >nm,</text>
<text x="565.9" y="1330.2" font-size="52" fill="#f00" ><tspan dx="1.73">1</tspan><tspan dx="-1.73">2</tspan>00</text>
<text x="695.7" y="1330.2" font-size="52" fill="#f00" >Pa</text>
<text x="317.6" y="1394.5" font-size="52" fill="#009100" ><tspan dx="1.73">1</tspan><tspan dx="-1.73">4</tspan>28</text>
<text x="462.9" y="1394.5" font-size="52" fill="#009100" >nm,</text>
<text x="594.8" y="1394.5" font-size="52" fill="#009100" >530</text>
<text x="695.7" y="1394.5" font-size="52" fill="#009100" >Pa</text>
<text x="317.6" y="1459.0" font-size="52" fill="#00f" ><tspan dx="1.73">1</tspan><tspan dx="-1.73">4</tspan>28</text>
<text x="462.9" y="1459.0" font-size="52" fill="#00f" >nm,</text>
<text x="565.9" y="1459.0" font-size="52" fill="#00f" ><tspan dx="1.73">1</tspan><tspan dx="-1.73">2</tspan>00</text>
<text x="695.7" y="1459.0" font-size="52" fill="#00f" >Pa</text>
<line x1="1934" y1="118.9" x2="1934" y2="1476.5" stroke="#000" stroke-width="7.6" stroke-linecap="square"/>
<line x1="1908" y1="118.4" x2="1934" y2="118.4" stroke="#000" stroke-width="6.8" stroke-linecap="round"/>
<text x="1810.7" y="137.4" font-size="65.5" fill="#000" transform="translate(1814.0,137.4) scale(1.0,1.035) translate(-1814.0,-137.4)" >23</text>
<line x1="1908" y1="458.0" x2="1934" y2="458.0" stroke="#000" stroke-width="6.8" stroke-linecap="round"/>
<text x="1810.7" y="477.0" font-size="65.5" fill="#000" transform="translate(1814.0,477.0) scale(1.0,1.035) translate(-1814.0,-477.0)" >22</text>
<line x1="1908" y1="797.7" x2="1934" y2="797.7" stroke="#000" stroke-width="6.8" stroke-linecap="round"/>
<text x="1810.7" y="816.7" font-size="65.5" fill="#000" transform="translate(1814.0,816.7) scale(1.0,1.035) translate(-1814.0,-816.7)" >2<tspan dx="2.17">1</tspan></text>
<line x1="1908" y1="1137.3" x2="1934" y2="1137.3" stroke="#000" stroke-width="6.8" stroke-linecap="round"/>
<text x="1810.7" y="1156.3" font-size="65.5" fill="#000" transform="translate(1814.0,1156.3) scale(1.0,1.035) translate(-1814.0,-1156.3)" >20</text>
<line x1="1908" y1="1477.0" x2="1934" y2="1477.0" stroke="#000" stroke-width="6.8" stroke-linecap="round"/>
<text x="1810.7" y="1496.0" font-size="65.5" fill="#000" transform="translate(1815.7,1496.0) scale(1.0,1.035) translate(-1815.7,-1496.0)" ><tspan dx="2.17">1</tspan><tspan dx="-2.17">9</tspan></text>
<line x1="1922.5" y1="288.2" x2="1934" y2="288.2" stroke="#000" stroke-width="6.8" stroke-linecap="round"/>
<line x1="1922.5" y1="627.9" x2="1934" y2="627.9" stroke="#000" stroke-width="6.8" stroke-linecap="round"/>
<line x1="1922.5" y1="967.5" x2="1934" y2="967.5" stroke="#000" stroke-width="6.8" stroke-linecap="round"/>
<line x1="1922.5" y1="1307.2" x2="1934" y2="1307.2" stroke="#000" stroke-width="6.8" stroke-linecap="round"/>
<line x1="1937.5" y1="213.5" x2="2001.5" y2="213.5" stroke="#9900cc" stroke-width="9" stroke-linecap="round"/>
<line x1="2019.6" y1="213.5" x2="2246" y2="213.5" stroke="#9900cc" stroke-width="6.8" stroke-dasharray="10.6 19.75" stroke-linecap="round"/>
<line x1="2262.4" y1="213.5" x2="2273" y2="213.5" stroke="#330044" stroke-width="6.8" stroke-linecap="round"/>
<line x1="1937.5" y1="723.7" x2="2001.5" y2="723.7" stroke="#9900cc" stroke-width="9" stroke-linecap="round"/>
<line x1="2019.6" y1="723.7" x2="2246" y2="723.7" stroke="#9900cc" stroke-width="6.8" stroke-dasharray="10.6 19.75" stroke-linecap="round"/>
<line x1="2262.4" y1="723.7" x2="2273" y2="723.7" stroke="#330044" stroke-width="6.8" stroke-linecap="round"/>
<line x1="1937.5" y1="1196.8" x2="2001.5" y2="1196.8" stroke="#9900cc" stroke-width="9" stroke-linecap="round"/>
<line x1="2019.6" y1="1196.8" x2="2246" y2="1196.8" stroke="#9900cc" stroke-width="6.8" stroke-dasharray="10.6 19.75" stroke-linecap="round"/>
<line x1="2262.4" y1="1196.8" x2="2273" y2="1196.8" stroke="#330044" stroke-width="6.8" stroke-linecap="round"/>
<line x1="2117.8" y1="723.7" x2="2117.8" y2="225.8" stroke="#f00" stroke-width="7.3"/>
<polygon points="2117.8,185 2128.9,217.8 2130.05,225.8 2105.55,225.8 2106.8,217.8" fill="#f00" stroke="#f00" stroke-width="1" stroke-linejoin="round"/>
<line x1="2093" y1="726.5" x2="2093" y2="1225.8" stroke="#f00" stroke-width="7.3"/>
<polygon points="2093,1264.5 2104.3,1233.8 2105.5,1225.8 2080.5,1225.8 2081.7,1233.8" fill="#f00" stroke="#f00" stroke-width="1" stroke-linejoin="round"/>
<line x1="2245.2" y1="729.5" x2="2245.2" y2="471.4" stroke="#00f" stroke-width="7.3"/>
<polygon points="2245.2,425.5 2255.2,463.4 2256.45,471.4 2233.95,471.4 2235.1,463.4" fill="#00f" stroke="#00f" stroke-width="1" stroke-linejoin="round"/>
<line x1="2219.2" y1="726.5" x2="2219.2" y2="985.4" stroke="#00f" stroke-width="7.3"/>
<polygon points="2219.2,1031.3 2229.2,993.4 2230.45,985.4 2207.95,985.4 2209.1,993.4" fill="#00f" stroke="#00f" stroke-width="1" stroke-linejoin="round"/>
<text x="2262.4" y="235.7" font-size="58" fill="#330044" ><tspan dx="1.93">1</tspan></text>
<text x="2295.4" y="235.7" font-size="58" fill="#000" >s3s</text>
<text x="2262.4" y="750.5" font-size="58" fill="#330044" ><tspan dx="1.93">1</tspan></text>
<text x="2295.4" y="750.5" font-size="58" fill="#000" >s2p</text>
<text x="2262.4" y="1219.7" font-size="58" fill="#330044" ><tspan dx="1.93">1</tspan></text>
<text x="2295.4" y="1219.7" font-size="58" fill="#000" >s2s</text>
<text x="1615.0" y="224.5" font-size="92" fill="#000" transform="translate(1620.7,224.5) scale(1.045,0.965) translate(-1620.7,-224.5)" >(b)</text>
<text transform="translate(1717.7,1152.0) rotate(-90)" x="0" y="0" font-size="65.3" fill="#000">XUV photon energy (eV)</text>
<text x="1954.5" y="1581.8" font-size="58.5" fill="#f00" ><tspan dx="1.94">1</tspan><tspan dx="-1.94">.</tspan>58 eV</text>
<text x="1954.7" y="1653.8" font-size="58.5" fill="#f00" >786 nm</text>
<text x="2216.5" y="1581.8" font-size="58.5" fill="#2040ff" >0.87 eV</text>
<text x="2217.4" y="1653.8" font-size="58.5" fill="#2040ff" ><tspan dx="1.94">1</tspan><tspan dx="-1.94">4</tspan>28 nm</text>
<rect x="892.06" y="1605.41" width="14.55" height="9.39" fill="#fff" transform="translate(854.8,1613.3) scale(1.0,1.035) translate(-854.8,-1613.3)"/>
<rect x="912.40" y="1605.41" width="11.64" height="9.39" fill="#fff" transform="translate(854.8,1613.3) scale(1.0,1.035) translate(-854.8,-1613.3)"/>
<rect x="1428.76" y="1605.41" width="14.55" height="9.39" fill="#fff" transform="translate(1391.5,1613.3) scale(1.0,1.035) translate(-1391.5,-1613.3)"/>
<rect x="1449.10" y="1605.41" width="11.64" height="9.39" fill="#fff" transform="translate(1391.5,1613.3) scale(1.0,1.035) translate(-1391.5,-1613.3)"/>
<rect x="569.10" y="1323.32" width="11.55" height="8.38" fill="#fff"/>
<rect x="585.25" y="1323.32" width="9.24" height="8.38" fill="#fff"/>
<rect x="320.83" y="1387.62" width="11.55" height="8.38" fill="#fff"/>
<rect x="336.98" y="1387.62" width="9.24" height="8.38" fill="#fff"/>
<rect x="320.83" y="1452.12" width="11.55" height="8.38" fill="#fff"/>
<rect x="336.98" y="1452.12" width="9.24" height="8.38" fill="#fff"/>
<rect x="569.10" y="1452.12" width="11.55" height="8.38" fill="#fff"/>
<rect x="585.25" y="1452.12" width="9.24" height="8.38" fill="#fff"/>
<rect x="1851.27" y="808.81" width="14.55" height="9.39" fill="#fff" transform="translate(1814.0,816.7) scale(1.0,1.035) translate(-1814.0,-816.7)"/>
<rect x="1871.61" y="808.81" width="11.64" height="9.39" fill="#fff" transform="translate(1814.0,816.7) scale(1.0,1.035) translate(-1814.0,-816.7)"/>
<rect x="1814.84" y="1488.11" width="14.55" height="9.39" fill="#fff" transform="translate(1815.7,1496.0) scale(1.0,1.035) translate(-1815.7,-1496.0)"/>
<rect x="1835.18" y="1488.11" width="11.64" height="9.39" fill="#fff" transform="translate(1815.7,1496.0) scale(1.0,1.035) translate(-1815.7,-1496.0)"/>
<rect x="2265.99" y="228.37" width="12.89" height="8.83" fill="#fff"/>
<rect x="2284.00" y="228.37" width="10.31" height="8.83" fill="#fff"/>
<rect x="2265.99" y="743.17" width="12.89" height="8.83" fill="#fff"/>
<rect x="2284.00" y="743.17" width="10.31" height="8.83" fill="#fff"/>
<rect x="2265.99" y="1212.37" width="12.89" height="8.83" fill="#fff"/>
<rect x="2284.00" y="1212.37" width="10.31" height="8.83" fill="#fff"/>
<rect x="1958.19" y="1574.43" width="13.00" height="8.87" fill="#fff"/>
<rect x="1976.35" y="1574.43" width="10.40" height="8.87" fill="#fff"/>
<rect x="2221.09" y="1646.43" width="13.00" height="8.87" fill="#fff"/>
<rect x="2239.25" y="1646.43" width="10.40" height="8.87" fill="#fff"/>
</svg>
</body></html>
